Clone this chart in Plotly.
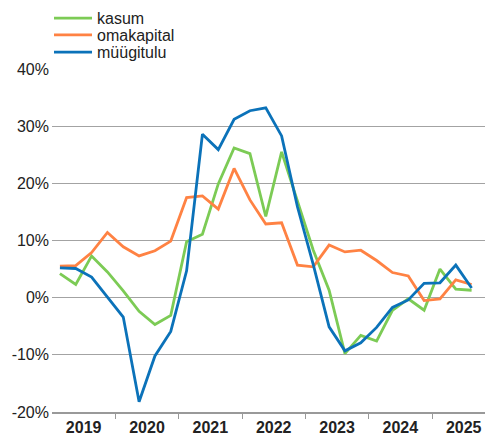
import plotly.graph_objects as go

quarters = list(range(27))  # 2019Q1 .. 2025Q3
kasum = [4.2, 2.3, 7.3, 4.5, 1.2, -2.4, -4.7, -3.1, 9.8, 11.1, 19.9, 26.2, 25.2, 14.2,
         25.5, 17.0, 8.3, 1.3, -9.8, -6.6, -7.6, -2.2, -0.2, -2.2, 5.0, 1.5, 1.3]
omakapital = [5.5, 5.6, 7.9, 11.4, 8.9, 7.3, 8.2, 9.9, 17.5, 17.8, 15.5, 22.6, 17.1, 12.9,
              13.1, 5.7, 5.4, 9.2, 8.0, 8.3, 6.5, 4.4, 3.8, -0.5, -0.2, 3.1, 2.3]
myygitulu = [5.2, 5.1, 3.6, 0.2, -3.4, -18.2, -10.2, -5.9, 4.7, 28.6, 25.9, 31.2, 32.7, 33.2,
             28.3, 15.9, 5.8, -5.1, -9.3, -7.9, -5.2, -1.7, -0.4, 2.5, 2.6, 5.7, 1.7]
years = ["2019", "2020", "2021", "2022", "2023", "2024", "2025"]
y_ticks = [-20, -10, 0, 10, 20, 30, 40]
y_labels = ["-20%", "-10%", "0%", "10%", "20%", "30%", "40%"]

series = [("kasum", kasum, "#7ccb55", "legend"),
          ("omakapital", omakapital, "#ff8243", "legend2"),
          ("müügitulu", myygitulu, "#0b72b9", "legend3")]

fig = go.Figure()
for name, vals, col, leg in series:
    fig.add_trace(go.Scatter(x=quarters, y=vals, name=name, mode="lines", legend=leg,
                             line=dict(color=col, width=2.8)))

year_centers = [1.5 + 4 * i for i in range(len(years))]
year_bounds = [3.5 + 4 * i for i in range(len(years))]

# page body has an 8px margin, so the figure is sized/offset accordingly
W, H = 485, 425


def leg(center_px):
    return dict(x=41 / W, y=1.0 - center_px / H, xref="container", yref="container",
                xanchor="left", yanchor="middle", itemwidth=38,
                font=dict(size=16, color="#222"), bgcolor="rgba(0,0,0,0)")


fig.update_layout(
    width=W, height=H,
    margin=dict(l=44, r=0, t=61, b=21, autoexpand=False),
    paper_bgcolor="white", plot_bgcolor="white",
    font=dict(family="Liberation Sans, Arial, sans-serif", size=16, color="#222"),
    showlegend=True,
    legend=leg(10.3), legend2=leg(27.0), legend3=leg(44.3),
    xaxis=dict(range=[-0.5, 27.35], tickvals=year_centers, ticktext=years,
               showgrid=False, zeroline=False, showline=True, linecolor="#999",
               linewidth=1.5, ticks="", automargin=False,
               tickfont=dict(size=16, color="#222", weight="bold"),
               minor=dict(tickvals=year_bounds, ticks="outside", ticklen=5,
                          tickcolor="#999", tickwidth=1.2, showgrid=False)),
    yaxis=dict(range=[-20, 40], tickvals=y_ticks, ticktext=y_labels, automargin=False,
               showgrid=True, gridcolor="#a3a3a3", gridwidth=1.3, ticklabelstandoff=2,
               zeroline=False, ticks="", tickfont=dict(size=16, color="#222")),
)
fig.write_html("out.html")
